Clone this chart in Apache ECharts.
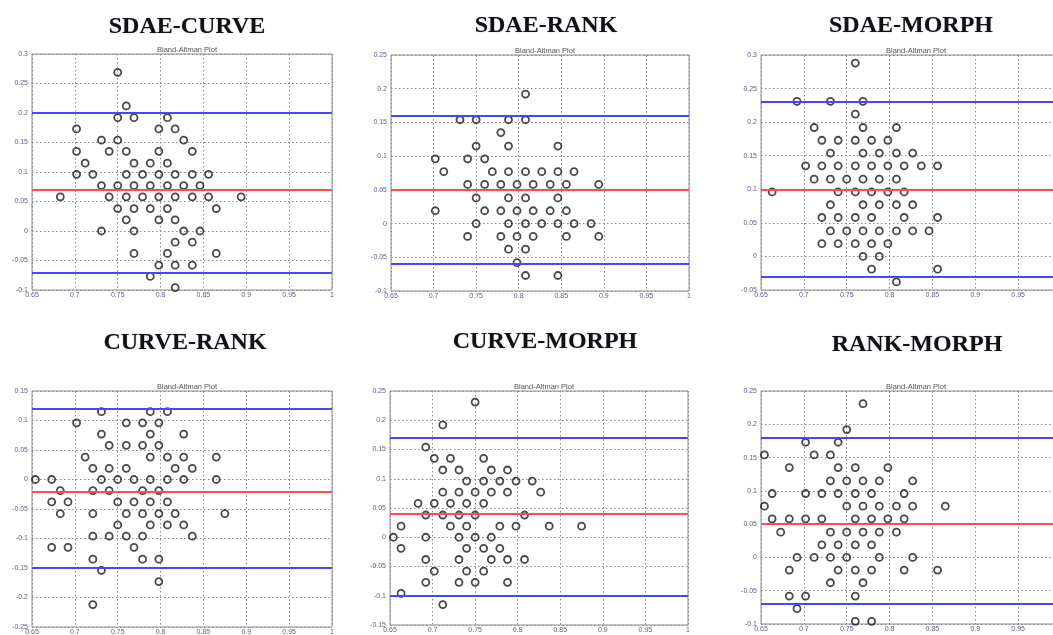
<!DOCTYPE html>
<html>
<head>
<meta charset="utf-8">
<script src="https://cdn.jsdelivr.net/npm/echarts@6/dist/echarts.min.js"></script>
<style>
  html, body { margin: 0; padding: 0; background: #fff; }
  #chart { width: 1053px; height: 635px; }
</style>
</head>
<body>
<div id="chart"></div>
<script>
// panel titles
const panelNames = ['SDAE-CURVE', 'SDAE-RANK', 'SDAE-MORPH', 'CURVE-RANK', 'CURVE-MORPH', 'RANK-MORPH'];

// [mean, difference] points
const sdaeCurve = [
  [0.750, 0.269], [0.760, 0.212],
  [0.750, 0.192], [0.769, 0.192], [0.808, 0.192],
  [0.702, 0.173], [0.798, 0.173], [0.817, 0.173],
  [0.731, 0.154], [0.750, 0.154], [0.827, 0.154],
  [0.702, 0.135], [0.740, 0.135], [0.760, 0.135], [0.798, 0.135], [0.837, 0.135],
  [0.712, 0.115], [0.769, 0.115], [0.788, 0.115], [0.808, 0.115],
  [0.702, 0.096], [0.721, 0.096], [0.760, 0.096], [0.779, 0.096], [0.798, 0.096], [0.817, 0.096], [0.837, 0.096], [0.856, 0.096],
  [0.731, 0.077], [0.750, 0.077], [0.769, 0.077], [0.788, 0.077], [0.808, 0.077], [0.827, 0.077], [0.846, 0.077],
  [0.683, 0.058], [0.740, 0.058], [0.760, 0.058], [0.779, 0.058], [0.798, 0.058], [0.817, 0.058], [0.837, 0.058], [0.856, 0.058], [0.894, 0.058],
  [0.750, 0.038], [0.769, 0.038], [0.788, 0.038], [0.808, 0.038], [0.865, 0.038],
  [0.760, 0.019], [0.798, 0.019], [0.817, 0.019],
  [0.731, 0], [0.769, 0], [0.827, 0], [0.846, 0],
  [0.817, -0.019], [0.837, -0.019],
  [0.769, -0.038], [0.808, -0.038], [0.865, -0.038],
  [0.798, -0.058], [0.817, -0.058], [0.837, -0.058],
  [0.788, -0.077], [0.817, -0.096]
];
const sdaeRank = [
  [0.808, 0.192],
  [0.731, 0.154], [0.750, 0.154], [0.788, 0.154], [0.808, 0.154],
  [0.779, 0.135],
  [0.750, 0.115], [0.788, 0.115], [0.846, 0.115],
  [0.702, 0.096], [0.740, 0.096], [0.760, 0.096],
  [0.712, 0.077], [0.769, 0.077], [0.788, 0.077], [0.808, 0.077], [0.827, 0.077], [0.846, 0.077], [0.865, 0.077],
  [0.740, 0.058], [0.760, 0.058], [0.779, 0.058], [0.798, 0.058], [0.817, 0.058], [0.837, 0.058], [0.856, 0.058], [0.894, 0.058],
  [0.750, 0.038], [0.788, 0.038], [0.808, 0.038], [0.846, 0.038],
  [0.702, 0.019], [0.760, 0.019], [0.779, 0.019], [0.798, 0.019], [0.817, 0.019], [0.837, 0.019], [0.856, 0.019],
  [0.750, 0], [0.788, 0], [0.808, 0], [0.827, 0], [0.846, 0], [0.865, 0], [0.885, 0],
  [0.740, -0.019], [0.779, -0.019], [0.798, -0.019], [0.817, -0.019], [0.856, -0.019], [0.894, -0.019],
  [0.788, -0.038], [0.808, -0.038],
  [0.798, -0.058],
  [0.808, -0.077], [0.846, -0.077]
];
const sdaeMorph = [
  [0.760, 0.288],
  [0.692, 0.231], [0.731, 0.231], [0.769, 0.231],
  [0.760, 0.212],
  [0.712, 0.192], [0.769, 0.192], [0.808, 0.192],
  [0.721, 0.173], [0.740, 0.173], [0.760, 0.173], [0.779, 0.173], [0.798, 0.173],
  [0.731, 0.154], [0.769, 0.154], [0.788, 0.154], [0.808, 0.154], [0.827, 0.154],
  [0.702, 0.135], [0.721, 0.135], [0.740, 0.135], [0.760, 0.135], [0.779, 0.135], [0.798, 0.135], [0.817, 0.135], [0.837, 0.135], [0.856, 0.135],
  [0.712, 0.115], [0.731, 0.115], [0.750, 0.115], [0.769, 0.115], [0.788, 0.115], [0.808, 0.115],
  [0.663, 0.096], [0.740, 0.096], [0.760, 0.096], [0.779, 0.096], [0.798, 0.096], [0.817, 0.096],
  [0.731, 0.077], [0.769, 0.077], [0.788, 0.077], [0.808, 0.077], [0.827, 0.077],
  [0.721, 0.058], [0.740, 0.058], [0.760, 0.058], [0.779, 0.058], [0.817, 0.058], [0.856, 0.058],
  [0.731, 0.038], [0.750, 0.038], [0.769, 0.038], [0.788, 0.038], [0.808, 0.038], [0.827, 0.038], [0.846, 0.038],
  [0.721, 0.019], [0.740, 0.019], [0.760, 0.019], [0.779, 0.019], [0.798, 0.019],
  [0.769, 0], [0.788, 0],
  [0.779, -0.019], [0.856, -0.019],
  [0.808, -0.038]
];
const curveRank = [
  [0.731, 0.115], [0.788, 0.115], [0.808, 0.115],
  [0.702, 0.096], [0.760, 0.096], [0.779, 0.096], [0.798, 0.096],
  [0.731, 0.077], [0.788, 0.077], [0.827, 0.077],
  [0.740, 0.058], [0.760, 0.058], [0.779, 0.058], [0.798, 0.058],
  [0.712, 0.038], [0.788, 0.038], [0.808, 0.038], [0.827, 0.038], [0.865, 0.038],
  [0.721, 0.019], [0.740, 0.019], [0.760, 0.019], [0.817, 0.019], [0.837, 0.019],
  [0.654, 0], [0.673, 0], [0.731, 0], [0.750, 0], [0.769, 0], [0.788, 0], [0.808, 0], [0.827, 0], [0.865, 0],
  [0.683, -0.019], [0.721, -0.019], [0.740, -0.019], [0.779, -0.019], [0.798, -0.019],
  [0.673, -0.038], [0.692, -0.038], [0.750, -0.038], [0.769, -0.038], [0.788, -0.038], [0.808, -0.038],
  [0.683, -0.058], [0.721, -0.058], [0.760, -0.058], [0.779, -0.058], [0.798, -0.058], [0.817, -0.058], [0.875, -0.058],
  [0.750, -0.077], [0.788, -0.077], [0.808, -0.077], [0.827, -0.077],
  [0.721, -0.096], [0.740, -0.096], [0.760, -0.096], [0.779, -0.096], [0.837, -0.096],
  [0.673, -0.115], [0.692, -0.115], [0.769, -0.115],
  [0.721, -0.135], [0.779, -0.135], [0.798, -0.135],
  [0.731, -0.154], [0.798, -0.173], [0.721, -0.212]
];
const curveMorph = [
  [0.750, 0.231], [0.712, 0.192], [0.692, 0.154],
  [0.702, 0.135], [0.721, 0.135], [0.760, 0.135],
  [0.712, 0.115], [0.731, 0.115], [0.769, 0.115], [0.788, 0.115],
  [0.740, 0.096], [0.760, 0.096], [0.779, 0.096], [0.798, 0.096], [0.817, 0.096],
  [0.712, 0.077], [0.731, 0.077], [0.750, 0.077], [0.769, 0.077], [0.788, 0.077], [0.827, 0.077],
  [0.683, 0.058], [0.702, 0.058], [0.721, 0.058], [0.740, 0.058], [0.760, 0.058],
  [0.692, 0.038], [0.712, 0.038], [0.731, 0.038], [0.750, 0.038], [0.808, 0.038],
  [0.663, 0.019], [0.721, 0.019], [0.740, 0.019], [0.779, 0.019], [0.798, 0.019], [0.837, 0.019], [0.875, 0.019],
  [0.654, 0], [0.692, 0], [0.731, 0], [0.750, 0], [0.769, 0],
  [0.663, -0.019], [0.740, -0.019], [0.760, -0.019], [0.779, -0.019],
  [0.692, -0.038], [0.731, -0.038], [0.769, -0.038], [0.788, -0.038], [0.808, -0.038],
  [0.702, -0.058], [0.740, -0.058], [0.760, -0.058],
  [0.692, -0.077], [0.731, -0.077], [0.750, -0.077], [0.788, -0.077],
  [0.663, -0.096], [0.712, -0.115]
];
const rankMorph = [
  [0.769, 0.231], [0.750, 0.192],
  [0.702, 0.173], [0.740, 0.173],
  [0.654, 0.154], [0.712, 0.154], [0.731, 0.154],
  [0.683, 0.135], [0.740, 0.135], [0.760, 0.135], [0.798, 0.135],
  [0.731, 0.115], [0.750, 0.115], [0.769, 0.115], [0.788, 0.115], [0.827, 0.115],
  [0.663, 0.096], [0.702, 0.096], [0.721, 0.096], [0.740, 0.096], [0.760, 0.096], [0.779, 0.096], [0.817, 0.096],
  [0.654, 0.077], [0.750, 0.077], [0.769, 0.077], [0.788, 0.077], [0.808, 0.077], [0.827, 0.077], [0.865, 0.077],
  [0.663, 0.058], [0.683, 0.058], [0.702, 0.058], [0.721, 0.058], [0.760, 0.058], [0.779, 0.058], [0.798, 0.058], [0.817, 0.058],
  [0.673, 0.038], [0.731, 0.038], [0.750, 0.038], [0.769, 0.038], [0.788, 0.038], [0.808, 0.038],
  [0.721, 0.019], [0.740, 0.019], [0.760, 0.019], [0.779, 0.019],
  [0.692, 0], [0.712, 0], [0.731, 0], [0.750, 0], [0.788, 0], [0.827, 0],
  [0.683, -0.019], [0.740, -0.019], [0.760, -0.019], [0.779, -0.019], [0.817, -0.019], [0.856, -0.019],
  [0.731, -0.038], [0.769, -0.038],
  [0.683, -0.058], [0.702, -0.058], [0.760, -0.058],
  [0.692, -0.077],
  [0.760, -0.096], [0.779, -0.096]
];

// [upper limit, mean difference, lower limit]
const upperLimits = [0.199, 0.156, 0.228, 0.118, 0.166, 0.180];
const meanDiffs   = [0.065, 0.047, 0.100, -0.018, 0.036, 0.054];
const lowerLimits = [-0.067, -0.064, -0.027, -0.153, -0.095, -0.071];

// axis ranges
const xRange = [0.65, 1];
const yMins = [-0.1, -0.1, -0.05, -0.25, -0.15, -0.1];
const yMaxs = [0.3, 0.25, 0.3, 0.15, 0.25, 0.25];

const panelData = [sdaeCurve, sdaeRank, sdaeMorph, curveRank, curveMorph, rankMorph];

// plot boxes in pixels [left, top, width, height]
const boxes = [
  [32, 54, 300, 236],
  [391, 55, 298, 236],
  [761, 55, 300, 235],
  [32, 391, 300, 236],
  [390, 391, 298, 234],
  [761, 391, 300, 233]
];
const titleY = [10, 9, 9, 326, 325, 328];
const titleX = [182, 541, 906, 180, 540, 912];

const chart = echarts.init(document.getElementById('chart'));

const titles = [];
const grids = [];
const xAxes = [];
const yAxes = [];
const series = [];

const labelStyle = { fontSize: 7, color: '#5e5e8e', fontFamily: 'Arial, Liberation Sans' };
const splitStyle = { show: true, lineStyle: { type: [1.5, 2.5], color: '#8a8a8a', width: 1 } };

panelNames.forEach((name, i) => {
  const [l, t, w, h] = boxes[i];
  titles.push({
    text: name,
    left: titleX[i],
    top: titleY[i],
    textAlign: 'center',
    textStyle: {
      fontFamily: 'Liberation Serif, Times New Roman, serif',
      fontWeight: 'bold',
      fontSize: 24,
      color: '#111',
      textShadowColor: 'rgba(60,60,140,0.35)',
      textShadowBlur: 1.5
    }
  });
  titles.push({
    text: 'Bland-Altman Plot',
    left: l + w / 2,
    top: t - 13,
    textAlign: 'center',
    textStyle: { fontSize: 7.5, fontWeight: 'normal', color: '#555', fontFamily: 'Arial, Liberation Sans' }
  });
  grids.push({
    left: l, top: t, width: w, height: h,
    outerBoundsMode: 'none',
    containLabel: false,
    show: true, borderColor: '#8c8c8c', borderWidth: 1, backgroundColor: '#fff'
  });
  xAxes.push({
    type: 'value', gridIndex: i,
    min: xRange[0], max: xRange[1], interval: 0.05,
    axisLine: { show: false },
    axisTick: { show: false },
    axisLabel: Object.assign({ margin: 2, showMinLabel: true, showMaxLabel: true }, labelStyle),
    splitLine: splitStyle
  });
  yAxes.push({
    type: 'value', gridIndex: i,
    min: yMins[i], max: yMaxs[i], interval: 0.05,
    axisLine: { show: false },
    axisTick: { show: false },
    axisLabel: Object.assign({ margin: 4, showMinLabel: true, showMaxLabel: true }, labelStyle),
    splitLine: splitStyle
  });
  series.push({
    type: 'scatter',
    xAxisIndex: i, yAxisIndex: i,
    data: panelData[i],
    symbol: 'circle',
    symbolSize: 7,
    itemStyle: { color: 'rgba(0,0,0,0)', borderColor: '#1a1a1a', borderWidth: 1.8 },
    z: 3,
    markLine: {
      silent: true,
      symbol: 'none',
      label: { show: false },
      animation: false,
      data: [
        { yAxis: upperLimits[i], lineStyle: { color: '#4646ff', width: 2, type: 'solid' } },
        { yAxis: meanDiffs[i], lineStyle: { color: '#ff4c4c', width: 2, type: 'solid' } },
        { yAxis: lowerLimits[i], lineStyle: { color: '#4646ff', width: 2, type: 'solid' } }
      ]
    }
  });
});

chart.setOption({
  animation: false,
  backgroundColor: '#fff',
  title: titles,
  grid: grids,
  xAxis: xAxes,
  yAxis: yAxes,
  series: series
});
</script>
</body>
</html>
